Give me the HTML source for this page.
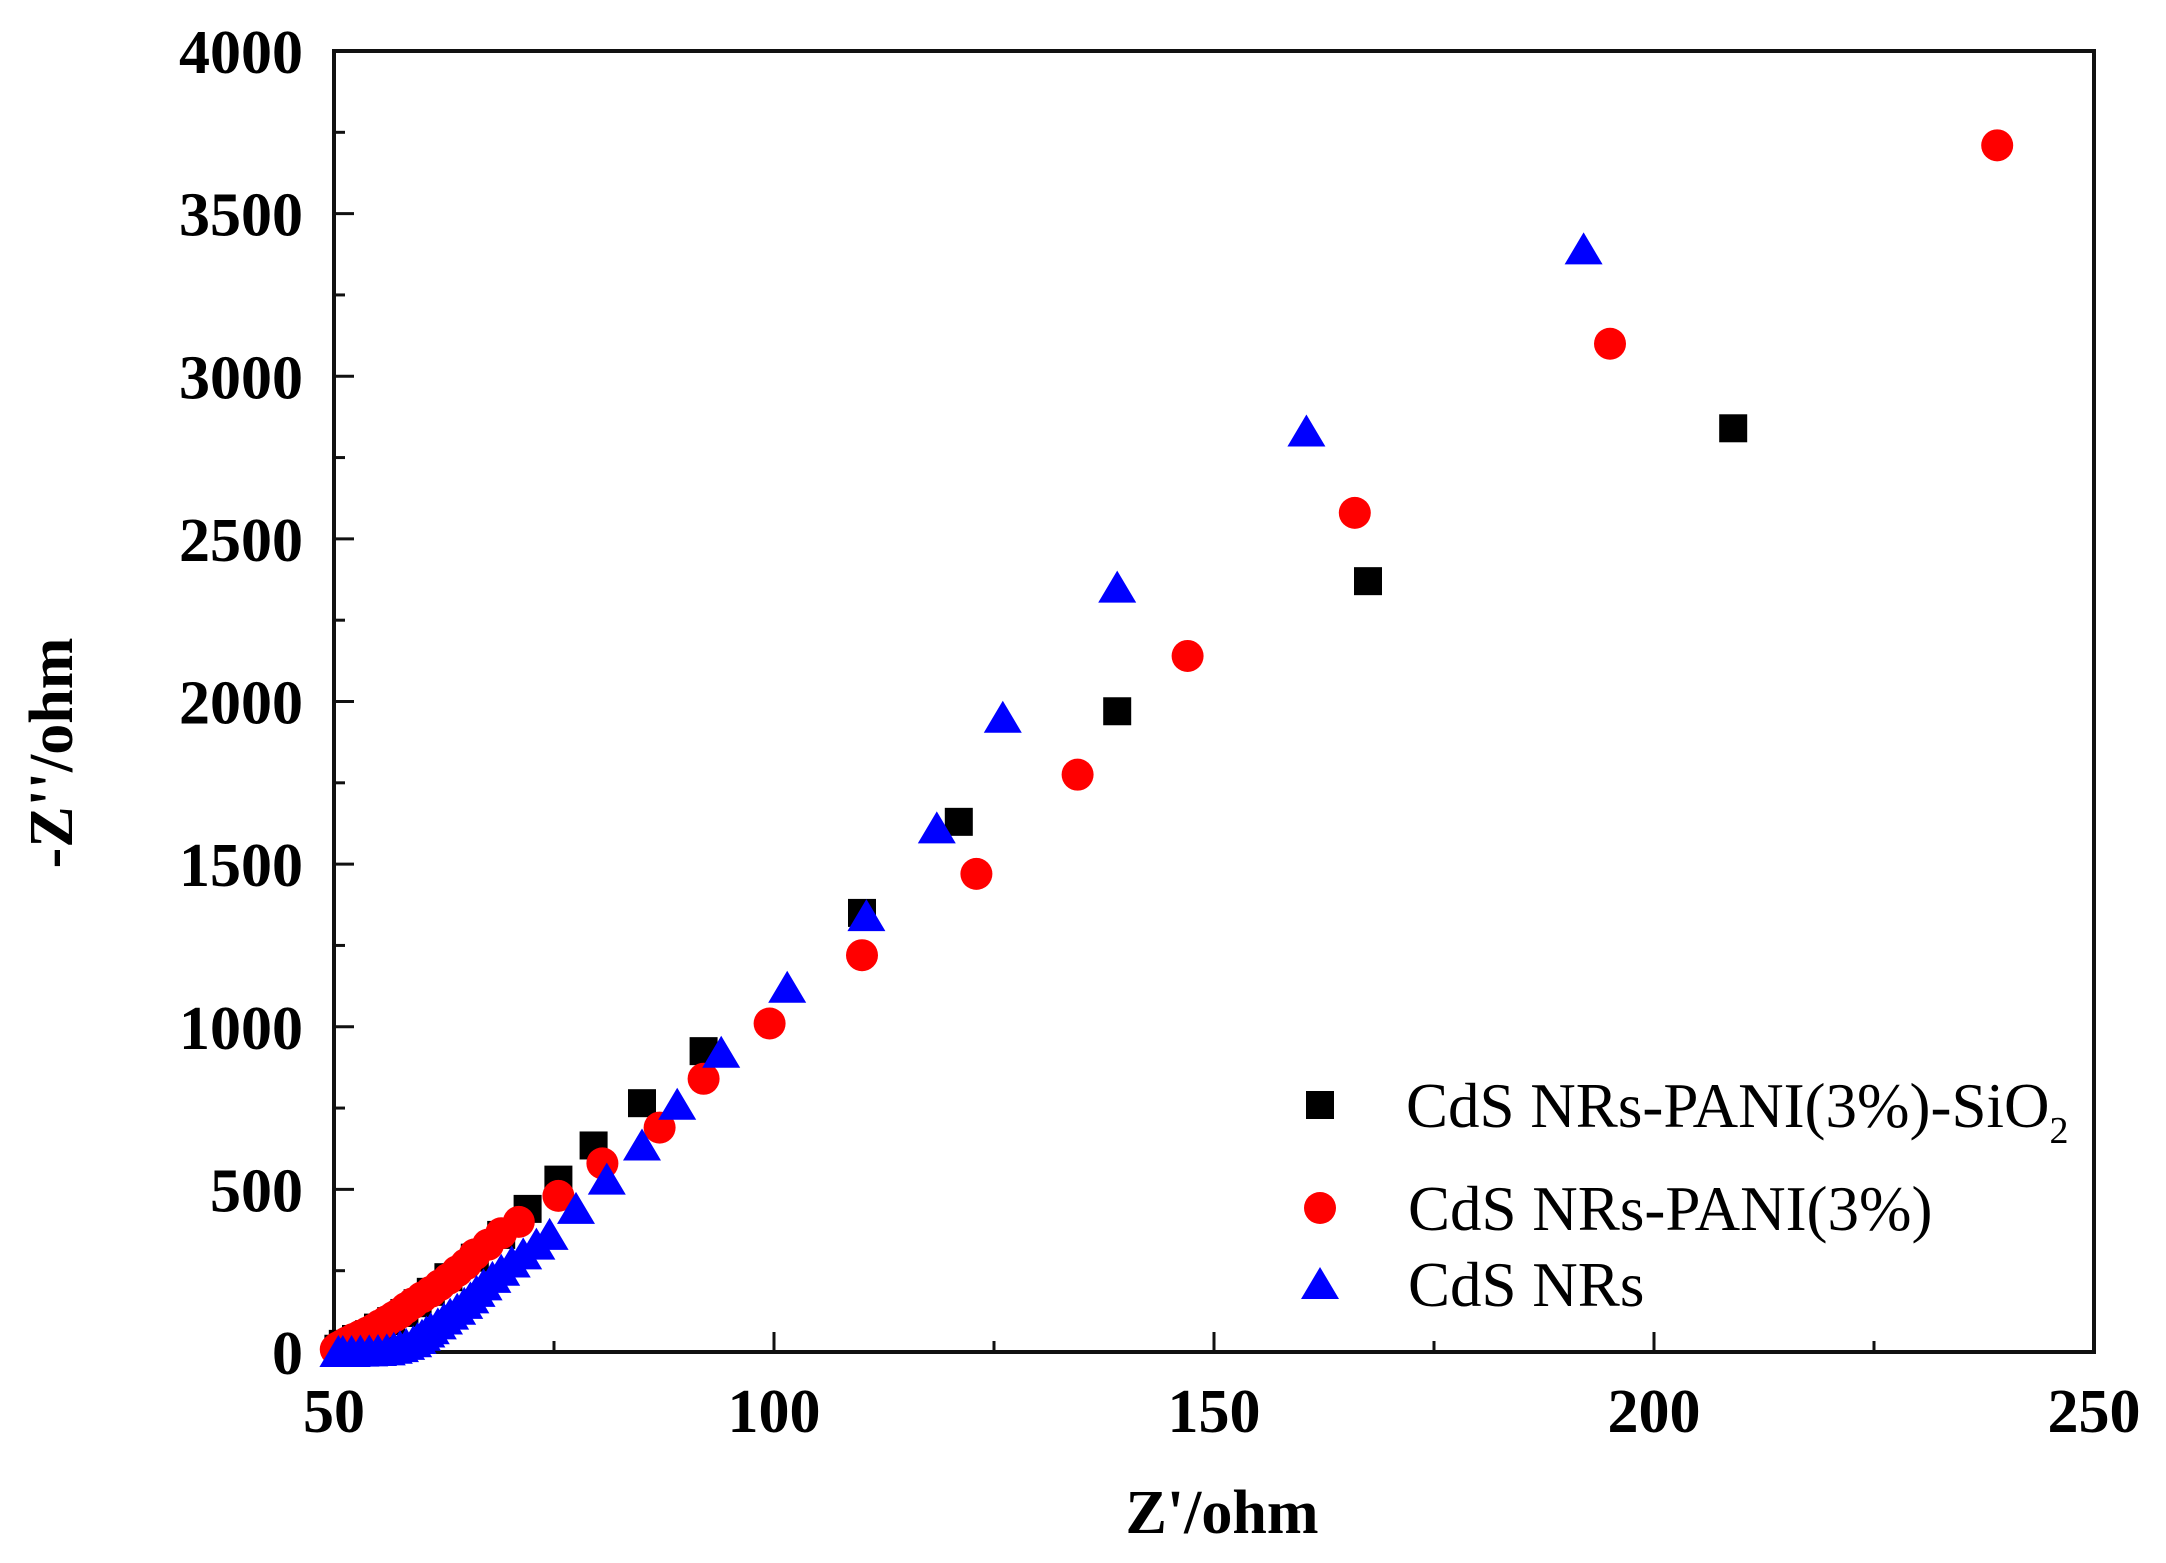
<!DOCTYPE html>
<html><head><meta charset="utf-8"><style>
html,body{margin:0;padding:0;background:#fff;}
svg{display:block;font-family:"Liberation Serif",serif;}
</style></head><body>
<svg id="chart" width="2166" height="1563" viewBox="0 0 2166 1563">
<g id="axes"></g>
<g id="marks"></g>
<g id="legend"></g>
<text x="1222" y="1533" font-size="62" font-weight="bold" text-anchor="middle">Z'/ohm</text>
<text transform="translate(72,753) rotate(-90)" font-size="62" font-weight="bold" text-anchor="middle">-Z''/ohm</text>
</svg>
<script>
const xTicks=[50,100,150,200,250];
const yTicks=[0,500,1000,1500,2000,2500,3000,3500,4000];
const blackX=[209,167.5,139,121,110,92,85,79.5,75.5,72,69,66,63,61,59.5,58,56.5,55,54,52.5,51,50.5];
const blackY=[2840,2370,1970,1630,1350,925,765,635,530,440,360,290,230,185,150,120,95,75,55,40,25,10];
const redX=[239,195,166,147,134.5,123,110,99.5,92,87,80.5,75.5,71,69,67.5,66,65,64,63,62,61,60,59,58.2,57.5,56.8,56,55.2,54.5,53.8,53,52.2,51.5,51,50.5,50.2];
const redY=[3710,3100,2580,2140,1775,1470,1220,1010,840,690,580,480,400,365,330,300,270,248,225,205,185,168,150,135,120,108,95,82,70,60,50,40,30,22,15,8];
const blueX=[192,160.5,139,126,118.5,110.5,101.5,94,89,85,81,77.5,74.5,73,71.5,70.2,69,68,67,66.2,65.5,64.8,64,63.2,62.5,61.8,61,60.5,60,59.5,59,58.2,57.5,56.8,56,55,54,53,52,51,50.5];
const blueY=[3390,2830,2350,1950,1610,1340,1120,920,760,635,530,440,360,330,300,275,250,228,205,185,165,148,130,115,100,85,70,60,50,40,30,22,15,10,5,3,2,1,0,0,0];
const L=334,R=2094,T=51,B=1352;
const sx=v=>L+(v-50)/200*(R-L);
const sy=v=>B-v/4000*(B-T);
const NS="http://www.w3.org/2000/svg";
function mk(tag,attrs,parent){const e=document.createElementNS(NS,tag);for(const k in attrs)e.setAttribute(k,attrs[k]);parent.appendChild(e);return e;}
const axes=document.getElementById('axes');
let fr=mk('rect',{x:L,y:T,width:R-L,height:B-T,fill:'none',stroke:'#111','stroke-width':4},axes);


xTicks.forEach((v,i)=>{
 const x=sx(v);
 let t=mk('line',{x1:x,x2:x,y1:B,y2:B-20,stroke:'#111','stroke-width':3},axes);
 
 
 if(i<xTicks.length-1){const xm=sx(v+25);
 let m=mk('line',{x1:xm,x2:xm,y1:B,y2:B-11,stroke:'#111','stroke-width':3},axes);
 
 }
 let lb=mk('text',{x:x,y:1432,'font-size':62,'font-weight':'bold','text-anchor':'middle'},axes);
 lb.textContent=v;
 
 
});
yTicks.forEach((v,i)=>{
 const y=sy(v);
 let t=mk('line',{x1:L,x2:L+20,y1:y,y2:y,stroke:'#111','stroke-width':3},axes);
 
 
 if(i<yTicks.length-1){const ym=sy(v+250);
 let m=mk('line',{x1:L,x2:L+11,y1:ym,y2:ym,stroke:'#111','stroke-width':3},axes);
 
 }
 let lb=mk('text',{x:303,y:y+22,'font-size':62,'font-weight':'bold','text-anchor':'end'},axes);
 lb.textContent=v;
 
 
});
const marks=document.getElementById('marks');
function sq(x,y,p,n){let e=mk('rect',{x:x-14,y:y-14,width:28,height:28,fill:'#000'},p);}
function ci(x,y,p,n){let e=mk('circle',{cx:x,cy:y,r:16,fill:'#ff0000'},p);}
function tr(x,y,p,n){let e=mk('polygon',{points:`${x},${y-17} ${x-19},${y+15} ${x+19},${y+15}`,fill:'#0000ff'},p);}
blackX.forEach((v,i)=>sq(sx(v),sy(blackY[i]),marks,'point-cds-pani-sio2'));
redX.forEach((v,i)=>ci(sx(v),sy(redY[i]),marks,'point-cds-pani'));
blueX.forEach((v,i)=>tr(sx(v),sy(blueY[i]),marks,'point-cds-nrs'));
const lg=document.getElementById('legend');
sq(1320,1105,lg,'legend-marker-cds-pani-sio2');
ci(1320,1208,lg,'legend-marker-cds-pani');
tr(1320,1284,lg,'legend-marker-cds-nrs');
let t1=mk('text',{x:1406,y:1127,'font-size':63},lg);
t1.innerHTML='CdS NRs-PANI(3%)-SiO<tspan font-size="38" dy="16">2</tspan>';


let t2=mk('text',{x:1408,y:1230,'font-size':63},lg);
t2.textContent='CdS NRs-PANI(3%)';


let t3=mk('text',{x:1408,y:1306,'font-size':63},lg);
t3.textContent='CdS NRs';


</script>
</body></html>
